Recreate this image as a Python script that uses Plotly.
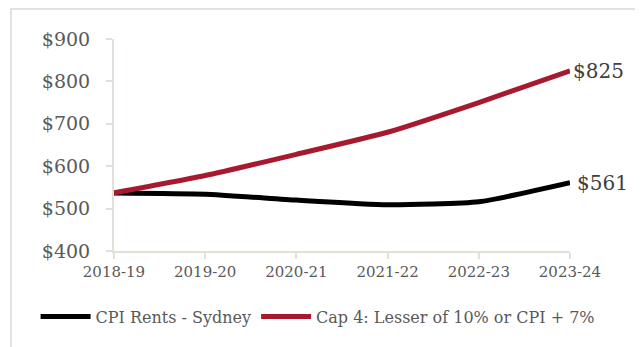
import plotly.graph_objects as go

categories = ["2018-19", "2019-20", "2020-21", "2021-22", "2022-23", "2023-24"]
cpi_rents = [537, 534, 520, 509, 516, 561]
cap4 = [537, 578, 628, 680, 750, 825]
y_ticks = [400, 500, 600, 700, 800, 900]
y_tick_labels = ["$400", "$500", "$600", "$700", "$800", "$900"]

FONT = "DejaVu Serif"
GREY = "#595959"
AXIS = "#e3e0da"

fig = go.Figure()
fig.add_trace(go.Scatter(x=categories, y=cpi_rents, mode="lines",
                         name="CPI Rents - Sydney",
                         line=dict(color="#000000", width=5, shape="spline", smoothing=0.5)))
fig.add_trace(go.Scatter(x=categories, y=cap4, mode="lines",
                         name="Cap 4: Lesser of 10% or CPI + 7%",
                         line=dict(color="#A6192E", width=5, shape="spline", smoothing=0.5)))

fig.add_annotation(x=categories[-1], y=cap4[-1], text=f"${cap4[-1]}", showarrow=False,
                   xanchor="left", xshift=1, font=dict(family=FONT, size=20, color="#404040"))
fig.add_annotation(x=categories[-1], y=cpi_rents[-1], text=f"${cpi_rents[-1]}", showarrow=False,
                   xanchor="left", xshift=5, font=dict(family=FONT, size=20, color="#404040"))

# outer frame
fig.add_shape(type="rect", xref="paper", yref="paper", x0=-0.2259, x1=1.149, y0=-0.48, y1=1.1415,
              line=dict(color="#d9d9d9", width=1.5), layer="below")

fig.update_layout(
    width=635, height=339,
    margin=dict(l=106, r=73, t=31, b=96),
    paper_bgcolor="white", plot_bgcolor="white",
    font=dict(family=FONT, color=GREY, size=15),
    xaxis=dict(type="category", range=[0, 5], showgrid=False, showline=True,
               linecolor=AXIS, linewidth=2, ticks="outside", ticklen=6, tickcolor=AXIS,
               tickwidth=2, tickfont=dict(family=FONT, size=15, color=GREY), zeroline=False),
    yaxis=dict(range=[400, 900], tickvals=y_ticks, ticktext=y_tick_labels, showgrid=False,
               showline=True, linecolor=AXIS, linewidth=2, ticks="outside", ticklen=6,
               tickcolor=AXIS, tickwidth=2, ticklabelstandoff=12,
               tickfont=dict(family=FONT, size=19, color=GREY), zeroline=False),
    showlegend=True,
    legend=dict(orientation="h", x=-0.172, xanchor="left", y=-0.31, yanchor="middle",
                font=dict(family=FONT, size=16, color=GREY), itemwidth=50,
                bgcolor="rgba(0,0,0,0)"),
)

fig.write_html("out.html")
